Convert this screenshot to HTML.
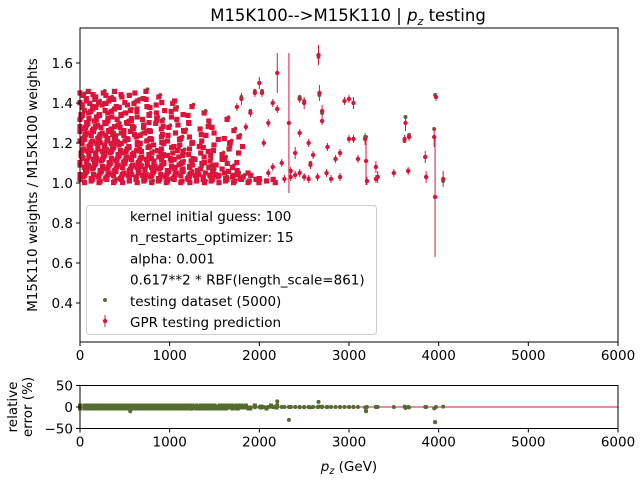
<!DOCTYPE html>
<html><head><meta charset="utf-8"><style>
body{margin:0;background:#fff}
svg{display:block;font-family:"DejaVu Sans","Liberation Sans",sans-serif}
</style></head><body>
<svg id="chart" width="640" height="480" viewBox="0 0 640 480">
<text x="348" y="21" text-anchor="middle" font-size="16.5">M15K100--&gt;M15K110 | <tspan font-style="italic">p</tspan><tspan font-style="italic" font-size="11" dy="4">z</tspan><tspan dy="-4"> testing</tspan></text>
<g id="main"></g>
<g id="resid"></g>
</svg>
<script>
// ---- data ----
const sparsePz   = [2000,2030,2200,2200,2330,2350,2400,2450,2500,2570,2600,2660,2670,2700,2700,2760,2800,2900,2950,3000,3050,3000,3050,3100,3180,3200,3190,3300,3320,3300,3500,3620,3630,3660,3670,3850,3860,3950,3960,3970,4050,2050,2100,2150,2250,2280,2400,2450,2500,2550,2650,2750,2900,2850,2450,2550,2350,2100,2150,1950,1900,1850,1800,1750];
const sparsePred = [1.50,1.45,1.55,1.37,1.30,1.06,1.15,1.42,1.40,1.09,1.14,1.64,1.45,1.36,1.31,1.18,1.02,1.15,1.41,1.42,1.40,1.22,1.22,1.12,1.22,1.01,1.11,1.08,1.03,1.02,1.05,1.22,1.30,1.06,1.23,1.13,1.03,1.23,0.93,1.43,1.02,1.20,1.05,1.08,1.10,1.02,1.04,1.05,1.03,1.02,1.03,1.05,1.03,1.12,1.25,1.20,1.03,1.30,1.40,1.45,1.35,1.28,1.42,1.38];
const sparseTest = [1.50,1.46,1.37,1.37,1.30,1.06,1.15,1.43,1.41,1.10,1.14,1.63,1.44,1.35,1.31,1.18,1.02,1.15,1.41,1.42,1.40,1.22,1.22,1.12,1.23,1.01,1.23,1.08,1.03,1.02,1.05,1.21,1.33,1.06,1.24,1.13,1.03,1.27,1.44,1.43,1.01,1.20,1.05,1.08,1.10,1.02,1.04,1.05,1.03,1.02,1.03,1.05,1.03,1.12,1.25,1.20,1.03,1.30,1.40,1.46,1.36,1.28,1.43,1.38];
const sparseErr  = [0.03,0.02,0.10,0.02,0.35,0.02,0.03,0.02,0.03,0.02,0.02,0.05,0.04,0.03,0.02,0.02,0.02,0.02,0.02,0.02,0.03,0.02,0.02,0.02,0.03,0.02,0.12,0.03,0.03,0.02,0.02,0.02,0.04,0.02,0.02,0.03,0.03,0.05,0.30,0.02,0.04,0.02,0.02,0.02,0.02,0.02,0.02,0.02,0.02,0.02,0.02,0.02,0.02,0.02,0.02,0.02,0.02,0.02,0.02,0.02,0.02,0.02,0.03,0.02];
const denseW  = [1.01,1.03,1.05,1.07,1.09,1.11,1.13,1.15,1.17,1.19,1.21,1.23,1.25,1.27,1.29,1.31,1.33,1.35,1.37,1.39,1.41,1.43,1.45];
const densePz = [
"0 50 100 150 200 250 300 350 400 450 500 550 600 650 700 750 800 850 900 950 1000 1050 1100 1150 1200 1250 1300 1350 1400 1450 1500 1550 1600 1650 1700 1750 1800 1850 1900 1950 2020 2080 2130 2190",
"0 50 100 150 200 250 300 350 400 450 500 550 600 650 700 750 800 850 900 950 1000 1050 1100 1150 1200 1250 1300 1350 1400 1450 1500 1550 1600 1650 1700 1750 1820 1880 1950",
"0 50 100 150 200 250 300 350 400 450 500 550 600 650 700 750 800 850 900 950 1000 1050 1100 1150 1200 1250 1300 1350 1400 1460 1520 1600 1680 1760 1850",
"0 50 100 150 200 250 300 350 400 450 500 550 600 650 700 750 800 850 900 950 1000 1050 1100 1150 1200 1260 1330 1400 1480 1560 1650 1740",
"0 50 100 150 200 250 300 350 400 450 500 550 600 650 700 750 800 850 900 960 1020 1080 1140 1210 1280 1360 1440 1530 1630",
"0 50 100 150 200 250 300 350 400 450 500 550 600 650 700 750 800 860 920 980 1050 1120 1190 1270 1350 1450 1560 1700",
"0 50 100 150 200 250 300 350 400 450 500 550 600 650 700 760 820 880 950 1020 1090 1170 1260 1360 1470 1600",
"0 50 100 150 200 250 300 350 400 450 500 550 600 660 720 790 860 930 1010 1100 1200 1310 1430 1560 1720",
"0 50 100 150 200 250 300 350 400 450 500 560 620 690 760 840 920 1010 1110 1220 1350 1500 1650",
"0 50 100 150 200 250 300 350 400 460 520 590 660 740 820 910 1000 1100 1210 1330 1470 1620 1800",
"0 50 100 150 200 250 300 360 420 490 560 640 720 810 900 1000 1110 1230 1370 1530 1700",
"0 50 100 150 200 250 310 370 440 510 590 670 760 860 970 1090 1220 1380 1560 1760",
"0 50 100 150 200 260 320 390 460 540 620 710 810 920 1040 1180 1340 1520",
"0 50 100 150 210 270 340 410 490 570 660 760 870 990 1130 1290 1460 1680",
"0 50 100 160 220 290 360 440 520 610 710 820 940 1080 1240 1430",
"0 50 110 170 240 310 390 470 560 660 770 890 1030 1200 1400 1640",
"0 50 100 160 230 300 380 460 550 650 760 880 1020 1180",
"0 60 120 190 260 340 420 510 610 720 840 980 1150 1360",
"0 60 130 200 280 360 450 550 660 780 920 1080",
"0 60 130 210 290 380 480 590 710 850 1010 1200",
"0 70 140 220 310 400 500 620 750 900 1080",
"0 70 150 240 330 430 550 680 830",
"0 80 170 260 360 470 600 760"
];
const resOutPz  = [560,2330,2660,3960,3190,2200,1240];
const resOutVal = [-10,-30,12,-35,-9,5,-4];
const xTicks = [0,1000,2000,3000,4000,5000,6000];
const yTicks = [0.4,0.6,0.8,1.0,1.2,1.4,1.6];
const rTicks = [-50,0,50];
const legendLabels = ["kernel initial guess: 100","n_restarts_optimizer: 15","alpha: 0.001","0.617**2 * RBF(length_scale=861)","testing dataset (5000)","GPR testing prediction"];

// ---- axes ----
const X0=80,X1=618,Y0=28,Y1=342, R0=385.5,R1=428.5;
const xs = v => X0 + (v-0)/(6000-0)*(X1-X0);
const ys = v => 183 - (v-1.0)*200;
const rs = v => 407 - v*(R1-R0)/100;
const NS="http://www.w3.org/2000/svg";
function mk(parent,tag,attrs){const e=document.createElementNS(NS,tag);for(const k in attrs)e.setAttribute(k,attrs[k]);parent.appendChild(e);return e;}
const main=document.getElementById('main'), resid=document.getElementById('resid');
const RED="#dc143c", GRN="#556b2f";

let fr=mk(main,'rect',{x:X0,y:Y0,width:X1-X0,height:Y1-Y0,fill:'#fff',stroke:'none'});


const pts=mk(main,'g',{});



// dense (visual jitter only in pixel space)
const denseList=[];
denseW.forEach((w,i)=>{densePz[i].split(' ').forEach((p,j)=>{denseList.push([+p,w,i,j]);});});
denseList.forEach(([p,w,i,j],k)=>{
  const jx=(i%2)*2.2+((j*7+i*3)%5-2)*1.1;
  const jy=((j*5+i)%3-1)*1.6;
  const cx=Math.max(X0,xs(p)+jx), cy=Math.min(ys(w)+jy,184);
  if(k%4===0){const g=mk(pts,'circle',{cx:cx+1.5,cy:cy-2,r:2,fill:GRN});
    
    }
  const c=mk(pts,'rect',{x:cx-2.6,y:cy-2.6,width:5.2,height:5.2,fill:RED});
  
  
});
// sparse
sparsePz.forEach((p,i)=>{
  const g=mk(pts,'circle',{cx:xs(p),cy:ys(sparseTest[i]),r:2,fill:GRN});
  
  
  const l=mk(pts,'line',{x1:xs(p),x2:xs(p),y1:ys(sparsePred[i]-sparseErr[i]),y2:ys(sparsePred[i]+sparseErr[i]),stroke:RED,'stroke-width':1});
  
  
  const c=mk(pts,'circle',{cx:xs(p),cy:ys(sparsePred[i]),r:2.2,fill:RED});
  
  
});
mk(main,'rect',{x:X0,y:Y0,width:X1-X0,height:Y1-Y0,fill:'none',stroke:'#000','stroke-width':1});

xTicks.forEach(t=>{
  mk(main,'line',{x1:xs(t),x2:xs(t),y1:Y1,y2:Y1+4,stroke:'#000'});
  const tx=mk(main,'text',{x:xs(t),y:Y1+18,'text-anchor':'middle','font-size':13.5});
  tx.textContent=t;
  
  
  mk(resid,'line',{x1:xs(t),x2:xs(t),y1:R1,y2:R1+4,stroke:'#000'});
  const t2=mk(resid,'text',{x:xs(t),y:R1+18,'text-anchor':'middle','font-size':13.5});
  t2.textContent=t;
  
  
});
yTicks.forEach(t=>{
  mk(main,'line',{x1:X0-4,x2:X0,y1:ys(t),y2:ys(t),stroke:'#000'});
  const tx=mk(main,'text',{x:X0-7,y:ys(t)+5,'text-anchor':'end','font-size':13.5});
  tx.textContent=t.toFixed(1);
  
  
});
const yt=mk(main,'text',{x:0,y:0,'text-anchor':'middle','font-size':13.5,transform:'translate(37,185) rotate(-90)'});
yt.textContent='M15K110 weights / M15K100 weights';



const lg=mk(main,'g',{});


mk(lg,'rect',{x:86.5,y:205.5,width:290,height:129,rx:3,fill:'#fff','fill-opacity':0.8,stroke:'#ccc'});
legendLabels.forEach((s,i)=>{
  const t=mk(lg,'text',{x:130,y:221+i*21.2,'font-size':13.5});
  t.textContent=s;
  
  
});
mk(lg,'circle',{cx:105,cy:300,r:2,fill:GRN});
mk(lg,'line',{x1:105,x2:105,y1:315,y2:327,stroke:RED});
mk(lg,'circle',{cx:105,cy:321,r:2.2,fill:RED});

mk(resid,'line',{x1:X0,x2:X1,y1:rs(0),y2:rs(0),stroke:RED,'stroke-width':1});
const rp=mk(resid,'g',{});


denseList.forEach(([p,w,i,j])=>{
  const c=mk(rp,'rect',{x:xs(p)-2,y:rs(0)-2.5+((j+i)%3-1),width:4,height:5,fill:GRN});
  
  
});
sparsePz.forEach((p,i)=>{
  const v=Math.max(-50,Math.min(50,(sparsePred[i]-sparseTest[i])/sparseTest[i]*100));
  const c=mk(rp,'circle',{cx:xs(p),cy:rs(v),r:2,fill:GRN});
  
  
});
resOutPz.forEach((p,i)=>{
  const c=mk(rp,'circle',{cx:xs(p),cy:rs(resOutVal[i]),r:2,fill:GRN});
  
  
});
mk(resid,'rect',{x:X0,y:R0,width:X1-X0,height:R1-R0,fill:'none',stroke:'#000'});
rTicks.forEach(t=>{
  mk(resid,'line',{x1:X0-4,x2:X0,y1:rs(t),y2:rs(t),stroke:'#000'});
  const tx=mk(resid,'text',{x:X0-7,y:rs(t)+5,'text-anchor':'end','font-size':13.5});
  tx.textContent=t===-50?'\u221250':t;
  
  
});
const r1=mk(resid,'text',{x:0,y:0,'text-anchor':'middle','font-size':13.5,transform:'translate(17,407) rotate(-90)'});
r1.textContent='relative';


const r2=mk(resid,'text',{x:0,y:0,'text-anchor':'middle','font-size':13.5,transform:'translate(32,407) rotate(-90)'});
r2.textContent='error (%)';


const xt=mk(resid,'text',{x:349,y:471,'text-anchor':'middle','font-size':13.5});
xt.innerHTML='<tspan font-style="italic">p</tspan><tspan font-style="italic" font-size="9.5" dy="3">z</tspan><tspan dy="-3"> (GeV)</tspan>';


</script>
</body></html>
